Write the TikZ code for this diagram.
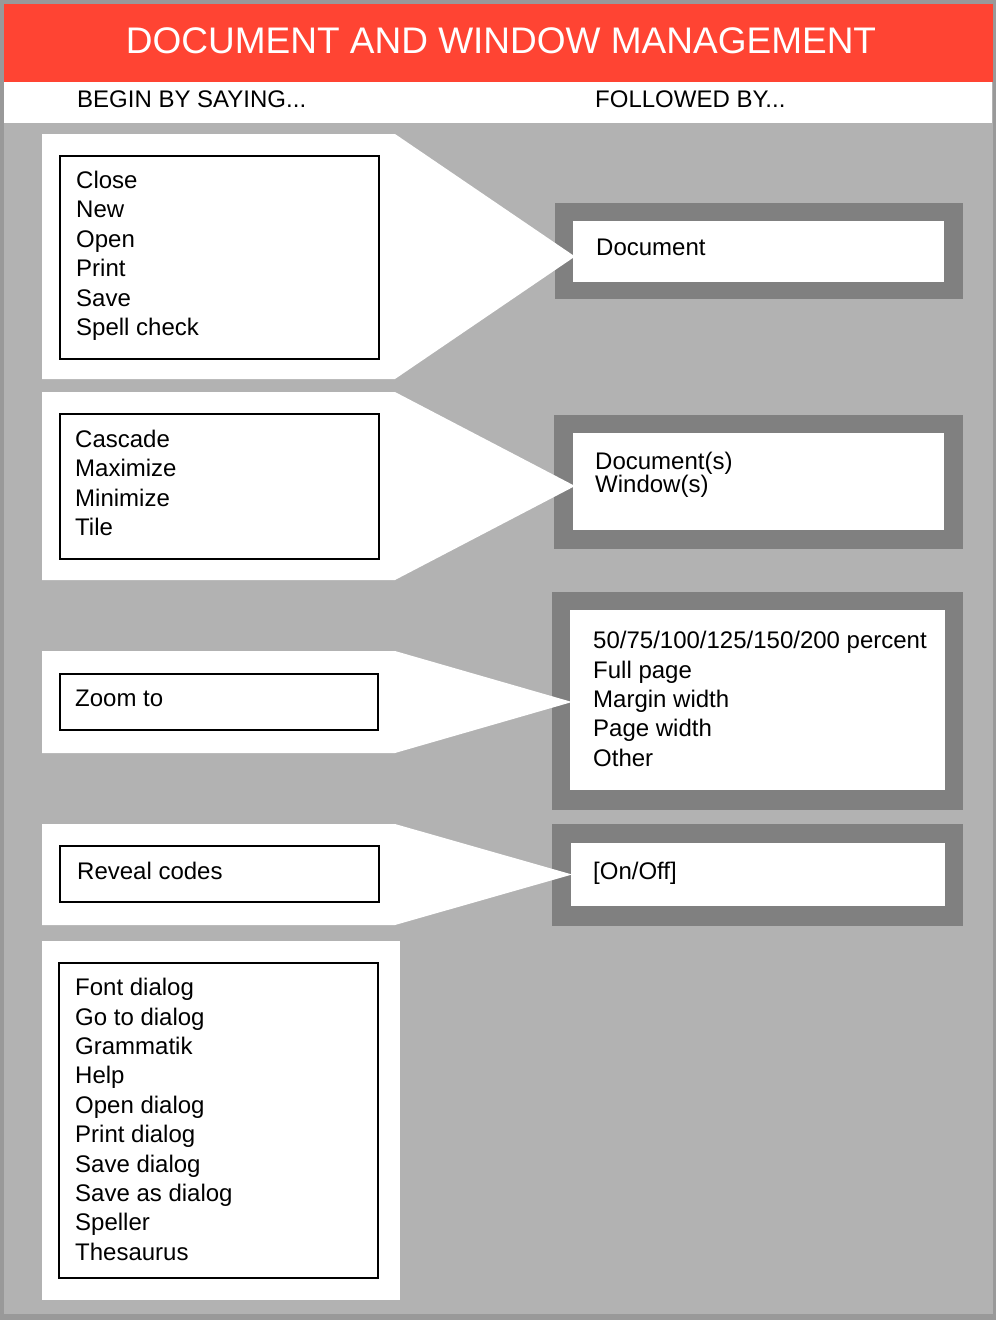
\documentclass[tikz,border=0pt]{standalone}
\usepackage{fontspec}
\setmainfont{Liberation Sans}
\definecolor{titlered}{HTML}{FF4433}
\definecolor{panelgray}{HTML}{B2B2B2}
\definecolor{framegray}{HTML}{808080}
\definecolor{edgegray}{HTML}{999999}
\tikzset{
    listtext/.style={anchor=north west, inner sep=0pt, align=left, font=\fontsize{24}{29.4}\selectfont},
    cmdbox/.style={draw=black, line width=1.3pt, fill=white},
}

\begin{document}
\begin{tikzpicture}[x=1pt, y=-1pt]
        \useasboundingbox (0,0) rectangle (996,1320);
        \fill[edgegray] (0,0) rectangle (996,1320);
        \fill[panelgray] (4,4) rectangle (993,1314);
        \fill[titlered] (4,4) rectangle (993,82);
        \fill[white] (4,82) rectangle (992,123);

        \node[anchor=base, inner sep=0pt, white, font=\fontsize{37}{44}\selectfont] (title) at (501,53) {DOCUMENT AND WINDOW MANAGEMENT};
        \node[listtext] (begin) at (77,91) {BEGIN BY SAYING...};
        \node[listtext] (follow) at (595,91) {FOLLOWED BY...};

        % right hand frames
        \foreach \t/\b/\l in {203/299/555, 415/549/554, 592/810/552, 824/926/552} {
            \fill[framegray] (\l,\t) rectangle (963,\b);
        }

        % left hand arrows
        \foreach \t/\b/\tip in {134/379/575, 392/580/575, 651/753/572, 824/925/572} {
            \fill[white] (42,\t) -- (395,\t) -- (\tip,{(\t+\b)/2}) -- (395,\b) -- (42,\b) -- cycle;
        }
        \fill[white] (42,941) rectangle (400,1300);

        % inner white of the frames
        \fill[white] (573,221) rectangle (944,282);
        \fill[white] (573,433) rectangle (944,530);
        \fill[white] (570,610) rectangle (945,790);
        \fill[white] (571,843) rectangle (945,906);

        % command boxes
        \foreach \l/\t/\r/\b in {60/156/379/359, 60/414/379/559, 60/674/378/730, 60/846/379/902, 59/963/378/1278} {
            \draw[cmdbox] (\l,\t) rectangle (\r,\b);
        }

        \node[listtext] (files) at (76,171) {Close\\New\\Open\\Print\\Save\\Spell check};
        \node[listtext] (windows) at (75,430) {Cascade\\Maximize\\Minimize\\Tile};
        \node[listtext] (zoom) at (75,690) {Zoom to};
        \node[listtext] (reveal) at (77,862) {Reveal codes};
        \node[listtext] (dialogs) at (75,978) {Font dialog\\Go to dialog\\Grammatik\\Help\\Open dialog\\Print dialog\\Save dialog\\Save as dialog\\Speller\\Thesaurus};

        \node[listtext] (document) at (596,239) {Document};
        \node[listtext, font=\fontsize{24}{23}\selectfont] (docwin) at (595,452) {Document(s)\\Window(s)};
        \node[listtext] (sizes) at (593,631) {50/75/100/125/150/200 percent\\Full page\\Margin width\\Page width\\Other};
        \node[listtext] (onoff) at (593,862) {[On/Off]};
    \end{tikzpicture}
\end{document}
